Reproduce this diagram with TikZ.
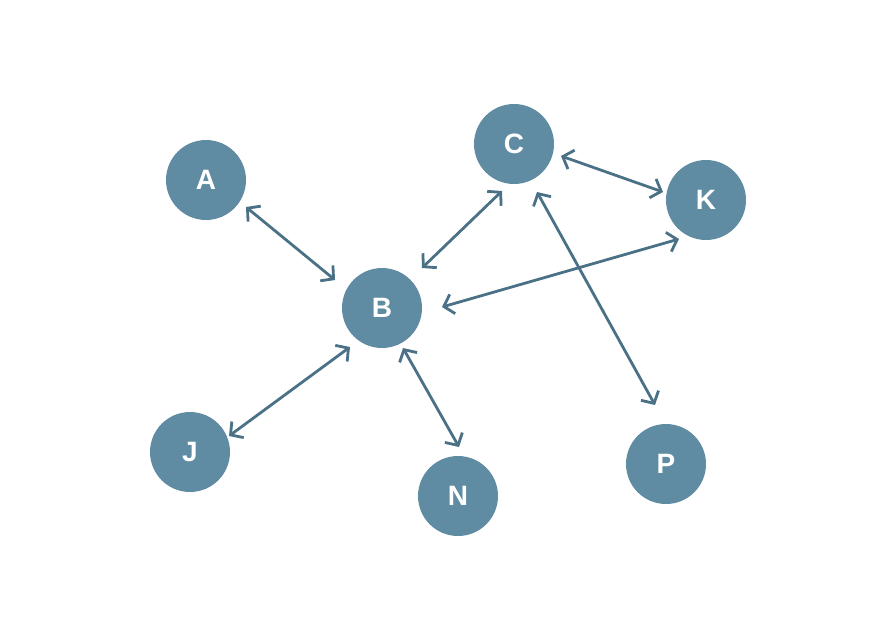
\documentclass[tikz,border=0pt]{standalone}
\usepackage{fontspec}
\setmainfont{Liberation Sans}
\usetikzlibrary{arrows.meta}
\definecolor{nodefill}{HTML}{5F8CA3}
\definecolor{edgecol}{HTML}{4A7185}
\begin{document}
\begin{tikzpicture}[x=1pt,y=-1pt,
  vtx/.style={circle,fill=nodefill,minimum size=80pt,inner sep=0pt,text=white,font=\fontsize{28}{28}\selectfont\bfseries},
  tip/.style={Straight Barb[length=9pt,width=20pt,line width=2.8pt]},
  link/.style={draw=edgecol,line width=2.8pt,{Straight Barb[length=9pt,width=20pt,line width=2.8pt]}-{Straight Barb[length=9pt,width=20pt,line width=2.8pt]}}]
\useasboundingbox (0,0) rectangle (896,640);
\node[vtx] (A) at (206,180) {A};
\node[vtx] (B) at (382,308) {B};
\node[vtx] (C) at (514,144) {C};
\node[vtx] (K) at (706,200) {K};
\node[vtx] (J) at (190,452) {J};
\node[vtx] (N) at (458,496) {N};
\node[vtx] (P) at (666,464) {P};
% connector end points
\coordinate (ab1) at (246,207); \coordinate (ab2) at (335,280);
\coordinate (bc1) at (422,268); \coordinate (bc2) at (502,191);
\coordinate (ck1) at (561,156); \coordinate (ck2) at (663,192);
\coordinate (bk1) at (442,307); \coordinate (bk2) at (679,239);
\coordinate (jb1) at (229,436); \coordinate (jb2) at (350,347);
\coordinate (bn1) at (403,348); \coordinate (bn2) at (459,447);
\coordinate (cp1) at (537,192); \coordinate (cp2) at (655,405);
\draw[link] (ab1) -- (ab2);
\draw[link] (bc1) -- (bc2);
\draw[link] (ck1) -- (ck2);
\draw[link] (bk1) -- (bk2);
\draw[link] (jb1) -- (jb2);
\draw[link] (bn1) -- (bn2);
\draw[link] (cp1) -- (cp2);
\end{tikzpicture}
\end{document}
